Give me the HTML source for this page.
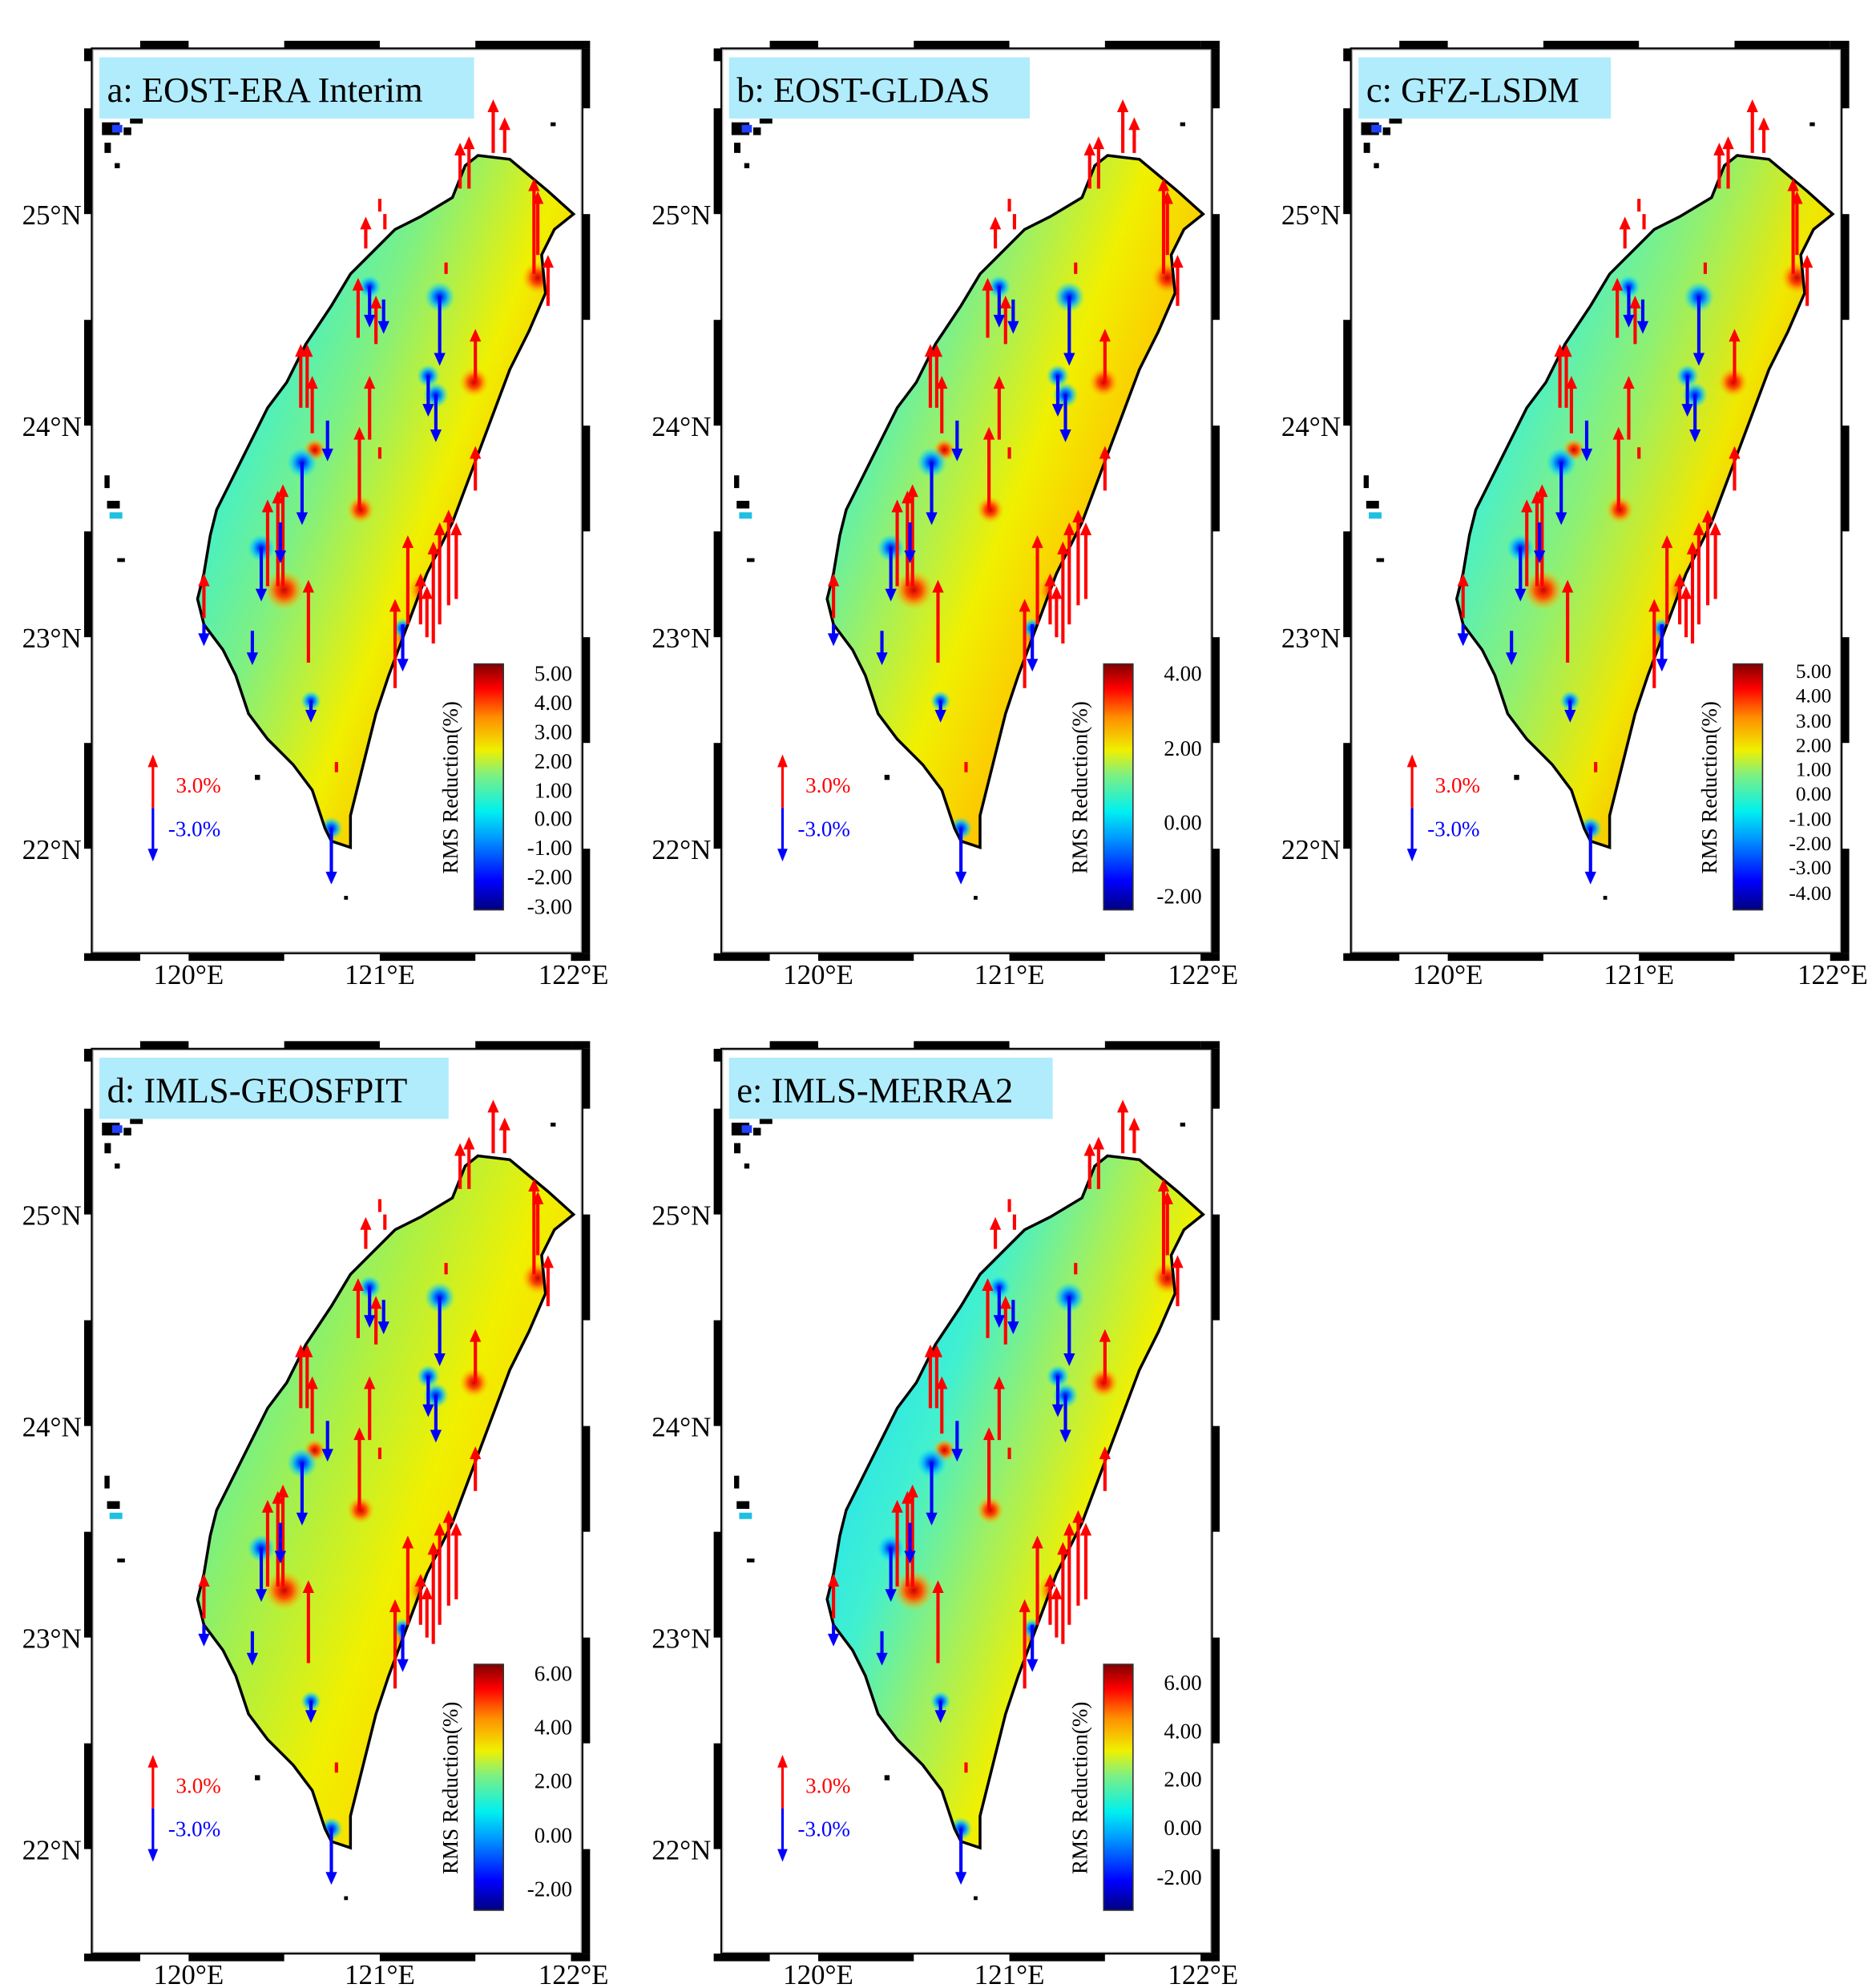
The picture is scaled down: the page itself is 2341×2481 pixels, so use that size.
<!DOCTYPE html>
<html><head><meta charset="utf-8"><style>
html,body{margin:0;padding:0;background:#fff;}
svg{display:block;}
text{font-family:"Liberation Serif","DejaVu Serif",serif !important;}
</style></head><body>
<svg width="2341" height="2481" viewBox="0 0 1472 1560" preserveAspectRatio="none" xmlns="http://www.w3.org/2000/svg" font-family="Liberation Serif, serif">
<defs>
<linearGradient id="jet" x1="0" y1="1" x2="0" y2="0">
<stop offset="0" stop-color="#00007f"/><stop offset="0.12" stop-color="#0000ff"/><stop offset="0.3" stop-color="#00a0ff"/><stop offset="0.4" stop-color="#00f0f0"/><stop offset="0.55" stop-color="#80f080"/><stop offset="0.65" stop-color="#f0f000"/><stop offset="0.78" stop-color="#ff9000"/><stop offset="0.9" stop-color="#ff0000"/><stop offset="1" stop-color="#800000"/>
</linearGradient>
<linearGradient id="fa" gradientUnits="userSpaceOnUse" x1="80" y1="330" x2="330" y2="430">
<stop offset="0" stop-color="#30f0e0"/><stop offset="0.35" stop-color="#80f080"/><stop offset="0.68" stop-color="#f0f000"/><stop offset="1" stop-color="#ffb000"/>
</linearGradient>
<linearGradient id="fb" gradientUnits="userSpaceOnUse" x1="80" y1="330" x2="330" y2="430">
<stop offset="0" stop-color="#40f0d0"/><stop offset="0.3" stop-color="#a0f060"/><stop offset="0.55" stop-color="#f0f000"/><stop offset="0.85" stop-color="#ffc000"/><stop offset="1" stop-color="#ff9000"/>
</linearGradient>
<linearGradient id="fc" gradientUnits="userSpaceOnUse" x1="80" y1="330" x2="330" y2="430">
<stop offset="0" stop-color="#30f0e8"/><stop offset="0.4" stop-color="#90f070"/><stop offset="0.7" stop-color="#f0e800"/><stop offset="1" stop-color="#ffa000"/>
</linearGradient>
<linearGradient id="fd" gradientUnits="userSpaceOnUse" x1="80" y1="330" x2="330" y2="430">
<stop offset="0" stop-color="#60f0a0"/><stop offset="0.35" stop-color="#b0f040"/><stop offset="0.65" stop-color="#f0f000"/><stop offset="1" stop-color="#ffd000"/>
</linearGradient>
<linearGradient id="fe" gradientUnits="userSpaceOnUse" x1="60" y1="330" x2="330" y2="430">
<stop offset="0" stop-color="#20e0f8"/><stop offset="0.3" stop-color="#40f0d0"/><stop offset="0.55" stop-color="#a0f060"/><stop offset="0.78" stop-color="#f0f000"/><stop offset="1" stop-color="#ffc000"/>
</linearGradient>
<radialGradient id="rb"><stop offset="0" stop-color="#0000e0"/><stop offset="0.4" stop-color="#0090ff"/><stop offset="1" stop-color="#00f0ff" stop-opacity="0"/></radialGradient>
<radialGradient id="rr"><stop offset="0" stop-color="#d00000"/><stop offset="0.4" stop-color="#ff5000"/><stop offset="1" stop-color="#ffd000" stop-opacity="0"/></radialGradient>
<clipPath id="isl"><polygon points="303,84 328,87 358,112 378,130 363,142 353,162 356,192 343,222 328,252 313,292 298,332 283,372 263,412 248,452 233,492 223,522 213,562 203,602 203,627 188,622 183,612 173,582 158,562 138,542 123,522 113,492 103,472 88,452 83,432 88,412 93,382 98,362 108,342 118,322 128,302 138,282 153,262 168,232 188,202 203,177 218,162 238,142 258,132 283,117 293,92"/></clipPath>
<g id="blobs">
<circle cx="151" cy="425" r="16" fill="url(#rr)"/><circle cx="211" cy="362" r="11" fill="url(#rr)"/><circle cx="175" cy="315" r="9" fill="url(#rr)"/><circle cx="262" cy="425" r="14" fill="url(#rr)"/><circle cx="350" cy="180" r="13" fill="url(#rr)"/><circle cx="248" cy="462" r="12" fill="url(#rr)"/><circle cx="143" cy="232" r="9" fill="url(#rr)"/><circle cx="300" cy="262" r="12" fill="url(#rr)"/>
<circle cx="273" cy="195" r="12" fill="url(#rb)"/><circle cx="165" cy="325" r="12" fill="url(#rb)"/><circle cx="133" cy="392" r="11" fill="url(#rb)"/><circle cx="270" cy="272" r="10" fill="url(#rb)"/><circle cx="188" cy="612" r="9" fill="url(#rb)"/><circle cx="264" cy="257" r="9" fill="url(#rb)"/><circle cx="218" cy="187" r="9" fill="url(#rb)"/><circle cx="172" cy="512" r="8" fill="url(#rb)"/><circle cx="244" cy="455" r="8" fill="url(#rb)"/>
</g>
<g id="arrows" stroke-width="2.6">
<g stroke="#ff0000" fill="none">
<path d="M315 82V46M324 82V60M289 110V80M296 110V75M347 177V108M350 162V118M358 202V168M215 157V138M230 142V130M209 227V186M223 232V200M169 282V238M164 282V238M173 302V263M218 307V263M210 362V303M226 322V313M138 422V360M146 422V353M150 422V348M88 447V418M170 482V423M248 452V388M238 502V438M268 467V393M273 452V378M280 437V368M286 432V378M301 262V226M301 347V318M258 452V418M263 462V428M192 568V560M278 177V168M226 128V118"/>
</g>
<g fill="#ff0000">
<path d="M315 40l-4.5 10h9zM324 54l-4.5 10h9zM289 74l-4.5 10h9zM296 69l-4.5 10h9zM347 102l-4.5 10h9zM350 112l-4.5 10h9zM358 162l-4.5 10h9zM215 132l-4.5 10h9zM209 180l-4.5 10h9zM223 194l-4.5 10h9zM169 232l-4.5 10h9zM164 232l-4.5 10h9zM173 257l-4.5 10h9zM218 257l-4.5 10h9zM210 297l-4.5 10h9zM138 354l-4.5 10h9zM146 347l-4.5 10h9zM150 342l-4.5 10h9zM88 412l-4.5 10h9zM170 417l-4.5 10h9zM248 382l-4.5 10h9zM238 432l-4.5 10h9zM268 387l-4.5 10h9zM273 372l-4.5 10h9zM280 362l-4.5 10h9zM286 372l-4.5 10h9zM301 220l-4.5 10h9zM301 312l-4.5 10h9zM258 412l-4.5 10h9zM263 422l-4.5 10h9z"/>
</g>
<g stroke="#0000ff" fill="none">
<path d="M273 195V241M218 187V211M229 197V216M165 325V366M185 292V316M133 392V426M148 372V396M264 257V281M270 272V301M172 512V521M188 612V648M244 452V481M88 452V461M126 457V476"/>
</g>
<g fill="#0000ff">
<path d="M273 249l-4.5 -10h9zM218 219l-4.5 -10h9zM229 224l-4.5 -10h9zM165 374l-4.5 -10h9zM185 324l-4.5 -10h9zM133 434l-4.5 -10h9zM148 404l-4.5 -10h9zM264 289l-4.5 -10h9zM270 309l-4.5 -10h9zM172 529l-4.5 -10h9zM188 656l-4.5 -10h9zM244 489l-4.5 -10h9zM88 469l-4.5 -10h9zM126 484l-4.5 -10h9z"/>
</g>
</g>
<g id="frame">
<rect x="0" y="0" width="385" height="710" fill="none" stroke="#000" stroke-width="1.5"/>
<rect x="1" y="1" width="383" height="708" fill="none" stroke="#aaa" stroke-width="0.8"/>
<g fill="#000">
<rect x="-6" y="47" width="6" height="83"/><rect x="-6" y="213" width="6" height="83"/><rect x="-6" y="379" width="6" height="83"/><rect x="-6" y="545" width="6" height="83"/><rect x="-6" y="0" width="6" height="10"/>
<rect x="385" y="0" width="6" height="47"/><rect x="385" y="130" width="6" height="83"/><rect x="385" y="296" width="6" height="83"/><rect x="385" y="462" width="6" height="83"/><rect x="385" y="628" width="6" height="82"/>
<rect x="-6" y="710" width="44" height="6"/><rect x="76" y="710" width="75" height="6"/><rect x="226" y="710" width="75" height="6"/><rect x="376" y="710" width="15" height="6"/>
<rect x="38" y="-6" width="38" height="6"/><rect x="151" y="-6" width="75" height="6"/><rect x="301" y="-6" width="75" height="6"/><rect x="376" y="-6" width="15" height="6"/>
</g>
<g font-size="22" text-anchor="end" fill="#000" font-family="Liberation Serif, serif">
<text x="-8" y="138">25°N</text><text x="-8" y="304">24°N</text><text x="-8" y="470">23°N</text><text x="-8" y="636">22°N</text>
</g>
<g font-size="22" text-anchor="middle" fill="#000" font-family="Liberation Serif, serif">
<text x="76" y="734">120°E</text><text x="226" y="734">121°E</text><text x="378" y="734">122°E</text>
</g>
</g>
<g id="deco">
<g fill="#000"><rect x="8" y="58" width="14" height="10"/><rect x="25" y="62" width="6" height="6"/><rect x="10" y="74" width="5" height="8"/><rect x="30" y="55" width="10" height="4"/><rect x="18" y="90" width="4" height="4"/><rect x="12" y="355" width="10" height="6"/><rect x="10" y="335" width="4" height="10"/><rect x="20" y="400" width="6" height="3"/><rect x="128" y="570" width="4" height="4"/><rect x="198" y="665" width="3" height="3"/><rect x="360" y="58" width="4" height="3"/></g>
<rect x="16" y="60" width="8" height="6" fill="#2040ff"/><rect x="14" y="364" width="10" height="5" fill="#20c0e0"/>
<line x1="48" y1="562" x2="48" y2="596" stroke="#ff0000" stroke-width="2"/><path d="M48 554l-4 10h8z" fill="#ff0000"/>
<line x1="48" y1="596" x2="48" y2="630" stroke="#0000ff" stroke-width="2"/><path d="M48 638l-4 -10h8z" fill="#0000ff"/>
<text x="66" y="584" font-size="17" fill="#ff0000" font-family="Liberation Serif, serif">3.0%</text>
<text x="60" y="618" font-size="17" fill="#0000ff" font-family="Liberation Serif, serif">-3.0%</text>
<rect x="300" y="483" width="23" height="193" fill="url(#jet)" stroke="#333" stroke-width="1"/>
<text transform="translate(287,580) rotate(-90)" font-size="17" text-anchor="middle" fill="#000" font-family="Liberation Serif, serif">RMS Reduction(%)</text>
</g>
<g id="map">
<polygon points="303,84 328,87 358,112 378,130 363,142 353,162 356,192 343,222 328,252 313,292 298,332 283,372 263,412 248,452 233,492 223,522 213,562 203,602 203,627 188,622 183,612 173,582 158,562 138,542 123,522 113,492 103,472 88,452 83,432 88,412 93,382 98,362 108,342 118,322 128,302 138,282 153,262 168,232 188,202 203,177 218,162 238,142 258,132 283,117 293,92" fill="none" stroke="#000" stroke-width="2.2"/>
</g>
<polygon id="shape" points="303,84 328,87 358,112 378,130 363,142 353,162 356,192 343,222 328,252 313,292 298,332 283,372 263,412 248,452 233,492 223,522 213,562 203,602 203,627 188,622 183,612 173,582 158,562 138,542 123,522 113,492 103,472 88,452 83,432 88,412 93,382 98,362 108,342 118,322 128,302 138,282 153,262 168,232 188,202 203,177 218,162 238,142 258,132 283,117 293,92"/>
</defs>

<!-- Panel a -->
<g transform="translate(72,38)">
<use href="#shape" fill="url(#fa)"/>
<g clip-path="url(#isl)"><use href="#blobs"/></g>
<use href="#map"/><use href="#arrows"/><use href="#deco"/><use href="#frame"/>
<rect x="6" y="7" width="294" height="48" fill="#b0ecfc"/>
<text x="12" y="42" font-size="28" font-family="Liberation Serif, serif">a: EOST-ERA Interim</text>
<g font-size="17" text-anchor="end" font-family="Liberation Serif, serif"><text x="377" y="496">5.00</text><text x="377" y="519">4.00</text><text x="377" y="542">3.00</text><text x="377" y="565">2.00</text><text x="377" y="588">1.00</text><text x="377" y="610">0.00</text><text x="377" y="633">-1.00</text><text x="377" y="656">-2.00</text><text x="377" y="679">-3.00</text></g>
</g>
<!-- Panel b -->
<g transform="translate(566,38)">
<use href="#shape" fill="url(#fb)"/>
<g clip-path="url(#isl)"><use href="#blobs"/></g>
<use href="#map"/><use href="#arrows"/><use href="#deco"/><use href="#frame"/>
<rect x="6" y="7" width="236" height="48" fill="#b0ecfc"/>
<text x="12" y="42" font-size="28" font-family="Liberation Serif, serif">b: EOST-GLDAS</text>
<g font-size="17" text-anchor="end" font-family="Liberation Serif, serif"><text x="377" y="496">4.00</text><text x="377" y="555">2.00</text><text x="377" y="613">0.00</text><text x="377" y="671">-2.00</text></g>
</g>
<!-- Panel c -->
<g transform="translate(1060,38)">
<use href="#shape" fill="url(#fc)"/>
<g clip-path="url(#isl)"><use href="#blobs"/></g>
<use href="#map"/><use href="#arrows"/><use href="#deco"/><use href="#frame"/>
<rect x="6" y="7" width="198" height="48" fill="#b0ecfc"/>
<text x="12" y="42" font-size="28" font-family="Liberation Serif, serif">c: GFZ-LSDM</text>
<g font-size="16" text-anchor="end" font-family="Liberation Serif, serif"><text x="377" y="494">5.00</text><text x="377" y="513">4.00</text><text x="377" y="533">3.00</text><text x="377" y="552">2.00</text><text x="377" y="571">1.00</text><text x="377" y="590">0.00</text><text x="377" y="610">-1.00</text><text x="377" y="629">-2.00</text><text x="377" y="648">-3.00</text><text x="377" y="668">-4.00</text></g>
</g>
<!-- Panel d -->
<g transform="translate(72,823)">
<use href="#shape" fill="url(#fd)"/>
<g clip-path="url(#isl)"><use href="#blobs"/></g>
<use href="#map"/><use href="#arrows"/><use href="#deco"/><use href="#frame"/>
<rect x="6" y="7" width="274" height="48" fill="#b0ecfc"/>
<text x="12" y="42" font-size="28" font-family="Liberation Serif, serif">d: IMLS-GEOSFPIT</text>
<g font-size="17" text-anchor="end" font-family="Liberation Serif, serif"><text x="377" y="496">6.00</text><text x="377" y="538">4.00</text><text x="377" y="580">2.00</text><text x="377" y="623">0.00</text><text x="377" y="665">-2.00</text></g>
</g>
<!-- Panel e -->
<g transform="translate(566,823)">
<use href="#shape" fill="url(#fe)"/>
<g clip-path="url(#isl)"><use href="#blobs"/></g>
<use href="#map"/><use href="#arrows"/><use href="#deco"/><use href="#frame"/>
<rect x="6" y="7" width="254" height="48" fill="#b0ecfc"/>
<text x="12" y="42" font-size="28" font-family="Liberation Serif, serif">e: IMLS-MERRA2</text>
<g font-size="17" text-anchor="end" font-family="Liberation Serif, serif"><text x="377" y="503">6.00</text><text x="377" y="541">4.00</text><text x="377" y="579">2.00</text><text x="377" y="617">0.00</text><text x="377" y="656">-2.00</text></g>
</g>
</svg>
</body></html>
